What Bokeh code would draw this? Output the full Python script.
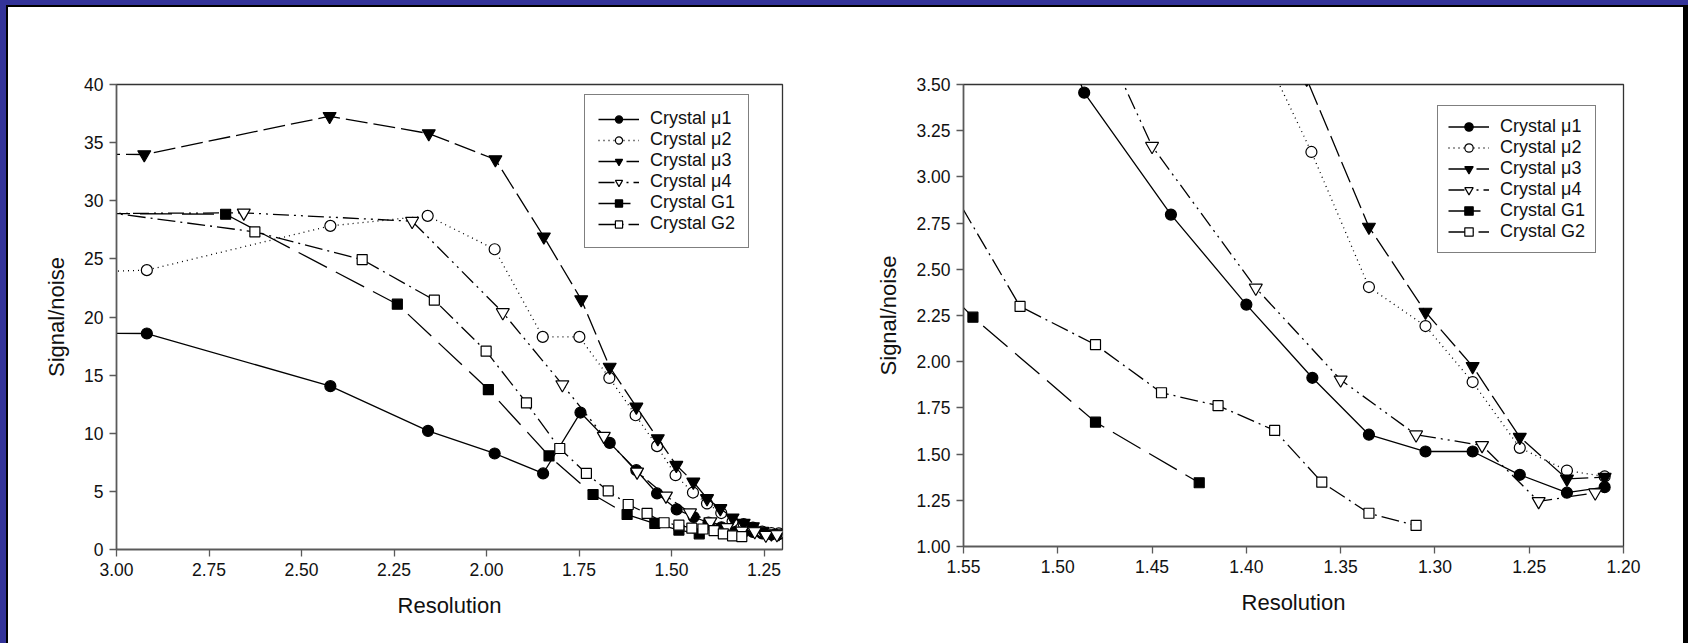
from bokeh.plotting import figure
from bokeh.models import (Range1d, FixedTicker, NumeralTickFormatter, Legend,
                          LegendItem, ColumnDataSource)
from bokeh.layouts import row, column
from bokeh.embed import file_html
from bokeh.resources import INLINE

# Signal/noise per resolution shell for each crystal (first entry lies just
# outside the plotted resolution range, so only its connecting line shows)
mu1_res = [3.05, 2.918, 2.422, 2.158, 1.978, 1.847, 1.746, 1.667, 1.595, 1.539,
           1.486, 1.440, 1.400, 1.365, 1.335, 1.305, 1.280, 1.255, 1.230, 1.210]
mu1_sn = [18.6, 18.58, 14.05, 10.2, 8.26, 6.54, 11.78, 9.17, 6.82, 4.82,
          3.456, 2.796, 2.309, 1.913, 1.605, 1.514, 1.514, 1.388, 1.291, 1.321]

mu2_res = [3.05, 2.918, 2.422, 2.159, 1.978, 1.848, 1.749, 1.668, 1.597, 1.539,
           1.489, 1.442, 1.404, 1.3655, 1.335, 1.305, 1.280, 1.255, 1.230, 1.210]
mu2_sn = [23.9, 24.03, 27.84, 28.7, 25.83, 18.29, 18.29, 14.76, 11.55, 8.89,
          6.39, 4.9, 3.96, 3.135, 2.404, 2.193, 1.890, 1.534, 1.411, 1.379]

mu3_res = [3.05, 2.925, 2.424, 2.156, 1.976, 1.845, 1.744, 1.667, 1.595, 1.537,
           1.487, 1.441, 1.404, 1.368, 1.335, 1.305, 1.280, 1.255, 1.230, 1.210]
mu3_sn = [34.0, 33.98, 37.27, 35.78, 33.55, 26.9, 21.5, 15.7, 12.27, 9.55,
          7.25, 5.82, 4.39, 3.53, 2.729, 2.269, 1.975, 1.592, 1.366, 1.375]

mu4_res = [3.05, 2.656, 2.201, 1.956, 1.795, 1.683, 1.593, 1.515, 1.450, 1.395,
           1.350, 1.310, 1.275, 1.245, 1.215]
mu4_sn = [28.9, 28.96, 28.24, 20.39, 14.19, 9.75, 6.68, 4.61, 3.166, 2.399,
          1.902, 1.605, 1.547, 1.244, 1.291]

g1_res = [3.05, 2.705, 2.241, 1.995, 1.831, 1.712, 1.620, 1.545, 1.480, 1.425]
g1_sn = [28.9, 28.84, 21.1, 13.76, 8.05, 4.73, 3.01, 2.241, 1.673, 1.345]

g2_res = [3.05, 2.626, 2.336, 2.141, 2.001, 1.892, 1.802, 1.730, 1.671, 1.617,
          1.566, 1.520, 1.480, 1.445, 1.415, 1.385, 1.360, 1.335, 1.310]
g2_sn = [29.1, 27.32, 24.94, 21.45, 17.06, 12.61, 8.69, 6.54, 5.04, 3.87,
         3.10, 2.299, 2.092, 1.832, 1.762, 1.628, 1.348, 1.180, 1.114]

series_names = ["Crystal \u03bc1", "Crystal \u03bc2", "Crystal \u03bc3",
                "Crystal \u03bc4", "Crystal G1", "Crystal G2"]

full_x_ticks = [3.00, 2.75, 2.50, 2.25, 2.00, 1.75, 1.50, 1.25]
full_y_ticks = [0, 5, 10, 15, 20, 25, 30, 35, 40]
zoom_x_ticks = [1.55, 1.50, 1.45, 1.40, 1.35, 1.30, 1.25, 1.20]
zoom_y_ticks = [1.00, 1.25, 1.50, 1.75, 2.00, 2.25, 2.50, 2.75, 3.00, 3.25, 3.50]

FONT = "Liberation Sans"
AXIS_GREY = "#5a5a5a"

# marker, fill colour, dash pattern for each series
styles = [
    ("circle", "black", "solid", 11),
    ("circle", "white", "1 4", 11),
    ("inverted_triangle", "black", "22 6", 13),
    ("inverted_triangle", "white", "16 5 2 5 2 5", 13),
    ("square", "black", "32 10", 10),
    ("square", "white", "18 5 2 5", 10),
]
series = [(mu1_res, mu1_sn), (mu2_res, mu2_sn), (mu3_res, mu3_sn),
          (mu4_res, mu4_sn), (g1_res, g1_sn), (g2_res, g2_sn)]


def build(x_rng, y_rng, xt, yt, xfmt, yfmt, fw, fh, bl, br, bt, bb,
          legend_loc, row_h, pad):
    p = figure(frame_width=fw, frame_height=fh,
               min_border_left=bl, min_border_right=br,
               min_border_top=bt, min_border_bottom=bb,
               x_range=Range1d(*x_rng), y_range=Range1d(*y_rng),
               output_backend="svg", toolbar_location=None,
               background_fill_color="white", border_fill_color="white")
    p.outline_line_color = "#333333"
    p.outline_line_width = 1.3
    p.xgrid.visible = False
    p.ygrid.visible = False

    for ax, ticks, fmt in ((p.xaxis[0], xt, xfmt), (p.yaxis[0], yt, yfmt)):
        ax.ticker = FixedTicker(ticks=ticks)
        ax.formatter = NumeralTickFormatter(format=fmt)
        ax.axis_line_color = AXIS_GREY
        ax.axis_line_width = 1.5
        ax.major_tick_line_color = AXIS_GREY
        ax.major_tick_line_width = 1.3
        ax.major_tick_out = 7
        ax.major_tick_in = 0
        ax.minor_tick_line_color = None
        ax.major_label_text_font = FONT
        ax.major_label_text_font_size = "17.5px"
        ax.major_label_text_color = "#111111"
        ax.major_label_standoff = 6
        ax.axis_label_text_font = FONT
        ax.axis_label_text_font_size = "22px"
        ax.axis_label_text_font_style = "normal"
        ax.axis_label_text_color = "#111111"

    p.xaxis.axis_label = "Resolution"
    p.yaxis.axis_label = "Signal/noise"
    p.xaxis.axis_label_standoff = 14
    p.yaxis.axis_label_standoff = 12

    items = []
    for name, (xs, ys), (mk, fill, dash, size) in zip(series_names, series, styles):
        src = ColumnDataSource(dict(x=xs, y=ys))
        ln = p.line("x", "y", source=src, line_color="black", line_width=1.3,
                    line_dash=dash)
        sc = p.scatter("x", "y", source=src, marker=mk, size=size,
                       fill_color=fill, line_color="black", line_width=1.2)
        items.append(LegendItem(label=name, renderers=[ln, sc]))

    leg = Legend(items=items, location=legend_loc, orientation="vertical",
                 label_text_font=FONT, label_text_font_size="18px",
                 label_text_color="#111111",
                 glyph_width=41, glyph_height=row_h, label_height=row_h,
                 label_standoff=11, spacing=0, padding=pad, margin=0,
                 border_line_color="black", border_line_width=1.2,
                 background_fill_color="white", background_fill_alpha=1.0)
    p.add_layout(leg)
    return p


left = build((3.0, 1.2), (0, 40), full_x_ticks, full_y_ticks, "0.00", "0",
             666, 465, 108, 64, 77, 94, (468, 301), 18, 13)
right = build((1.55, 1.20), (1.0, 3.5), zoom_x_ticks, zoom_y_ticks, "0.00", "0.00",
              660, 462, 117, 60, 77, 97, (474, 293), 21, 10)

panel = row(left, right, styles={
    "background-color": "white",
    "border-top": "2px solid black",
    "border-left": "2px solid black",
    "border-right": "5px solid black",
})
page = column(panel, styles={
    "background-color": "#333399",
    "padding-top": "5px",
    "padding-left": "6px",
})

open("out.html", "w").write(file_html(page, INLINE))
